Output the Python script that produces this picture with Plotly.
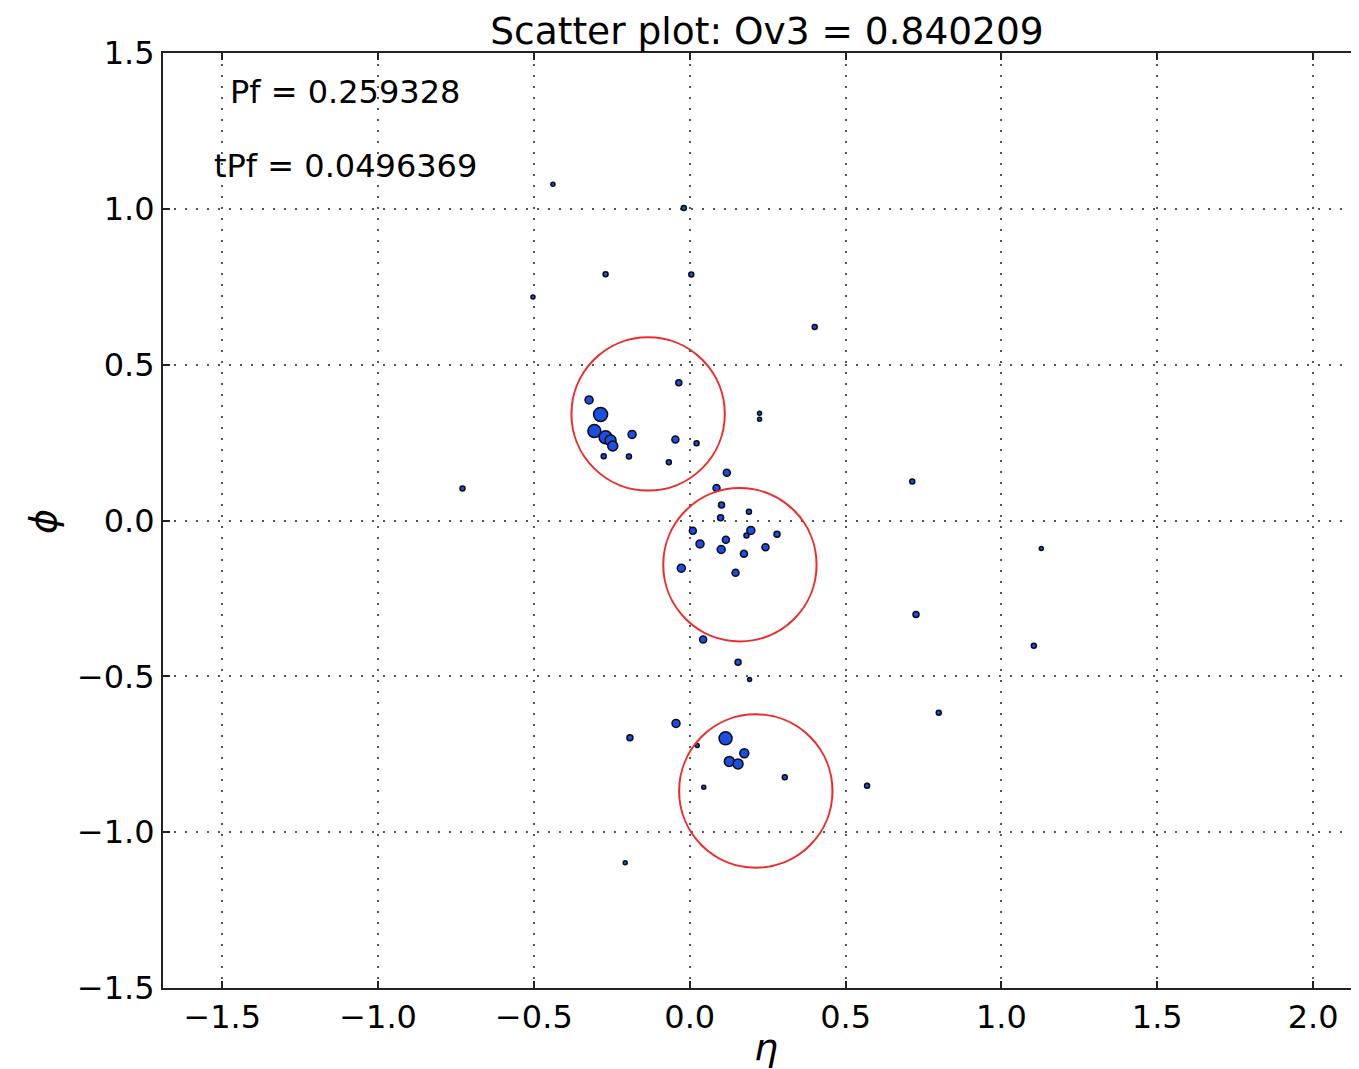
import plotly.graph_objects as go

# Data (eta, phi, marker size)
eta = [-0.323, -0.286, -0.306, -0.270, -0.254, -0.247, -0.185, -0.276, -0.195, -0.035,
       -0.046, 0.022, -0.067, 0.119, 0.086, 0.102, 0.190, 0.099, 0.010, 0.196,
       0.182, 0.280, 0.033, 0.116, 0.101, 0.174, 0.243, -0.027, 0.147, 0.043,
       -0.044, 0.115, 0.024, 0.175, 0.127, 0.155, 0.305, 0.045, -0.439, -0.019,
       -0.270, 0.005, -0.503, 0.401, 0.714, 1.128, 0.726, 1.104, 0.799, -0.729,
       0.224, 0.224, 0.155, 0.192, -0.192, 0.569, -0.207]
phi = [0.387, 0.340, 0.287, 0.267, 0.257, 0.239, 0.276, 0.206, 0.205, 0.442,
       0.260, 0.248, 0.187, 0.153, 0.104, 0.050, 0.028, 0.009, -0.033, -0.032,
       -0.048, -0.044, -0.075, -0.062, -0.093, -0.107, -0.086, -0.153, -0.168, -0.382,
       -0.651, -0.699, -0.722, -0.747, -0.773, -0.781, -0.824, -0.856, 1.079, 1.003,
       0.790, 0.789, 0.717, 0.621, 0.125, -0.090, -0.302, -0.402, -0.617, 0.103,
       0.344, 0.325, -0.455, -0.510, -0.697, -0.851, -1.098]
sizes = [7, 13, 12, 12, 10, 9, 7, 4, 4, 5,
         6, 4, 4, 6, 6, 5, 4, 5, 6, 7,
         4, 5, 7, 6, 7, 6, 6, 7, 6, 6,
         7, 12, 3, 8, 9, 9, 4, 3, 3, 4,
         4, 4, 3, 4, 4, 3, 5, 4, 4, 4,
         3, 3, 5, 3, 5, 4, 3]

# Jet circles
circle_eta = [-0.1335, 0.161, 0.212]
circle_phi = [0.342, -0.142, -0.868]
circle_r = [0.246, 0.246, 0.246]

title_text = "Scatter plot: Ov3 = 0.840209"
pf_text = "Pf = 0.259328"
tpf_text = "tPf = 0.0496369"
xlabel = "<i>\u03b7</i>"
ylabel = "<i>\u03d5</i>"

xticks = [-1.5, -1.0, -0.5, 0.0, 0.5, 1.0, 1.5, 2.0]
yticks = [-1.5, -1.0, -0.5, 0.0, 0.5, 1.0, 1.5]


def fmt(v):
    s = f"{abs(v):.1f}"
    return ("\u2212" + s) if v < 0 else s


FONT = "DejaVu Sans"
W, H = 1359, 1069
fig = go.Figure()
fig.add_trace(go.Scatter(
    x=eta, y=phi, mode="markers",
    marker=dict(size=[s + 1 for s in sizes], color="#1a4fe0", opacity=1,
                line=dict(color="#0a0a1a", width=1.5)),
    showlegend=False, hoverinfo="skip"))

for cx, cy, r in zip(circle_eta, circle_phi, circle_r):
    fig.add_shape(type="circle", xref="x", yref="y",
                  x0=cx - r, x1=cx + r, y0=cy - r, y1=cy + r,
                  line=dict(color="#ee2a2a", width=2))

fig.add_annotation(x=-1.105, y=1.374, xref="x", yref="y", text=pf_text,
                   showarrow=False, xanchor="center", yanchor="middle",
                   font=dict(family=FONT, size=32, color="black"))
fig.add_annotation(x=-1.105, y=1.136, xref="x", yref="y", text=tpf_text,
                   showarrow=False, xanchor="center", yanchor="middle",
                   font=dict(family=FONT, size=32, color="black"))
fig.add_annotation(x=0.5008, y=-0.0631, xref="paper", yref="paper", text=xlabel,
                   showarrow=False, xanchor="center", yanchor="middle",
                   font=dict(family=FONT, size=38, color="black"))
fig.add_annotation(x=-0.0997, y=0.4995, xref="paper", yref="paper", text=ylabel,
                   showarrow=False, xanchor="center", yanchor="middle", textangle=-90,
                   font=dict(family=FONT, size=38, color="black"))

fig.update_layout(
    width=W, height=H,
    margin=dict(l=155, r=0, t=45, b=89, autoexpand=False),
    paper_bgcolor="white", plot_bgcolor="white",
    font=dict(family=FONT, size=32, color="black"),
    title=dict(text=title_text, x=759 / W, xref="container", xanchor="center",
               y=1 - 23 / H, yref="container", yanchor="middle",
               font=dict(family=FONT, size=37.5, color="black")),
    xaxis=dict(range=[-1.69, 2.173], tickvals=xticks, ticktext=[fmt(v) for v in xticks],
               showline=True, linecolor="#222222", linewidth=2, mirror="ticks",
               ticks="inside", ticklen=7, tickcolor="#222222", tickwidth=1.5,
               showgrid=True, gridcolor="#555555", griddash="2px,9px", gridwidth=1.5,
               zeroline=False, ticklabelstandoff=0, automargin=False),
    yaxis=dict(range=[-1.5, 1.5], tickvals=yticks, ticktext=[fmt(v) for v in yticks],
               showline=True, linecolor="#222222", linewidth=2, mirror=False,
               ticks="inside", ticklen=7, tickcolor="#222222", tickwidth=1.5,
               showgrid=True, gridcolor="#555555", griddash="2px,9px", gridwidth=1.5,
               zeroline=False, ticklabelstandoff=0, automargin=False),
)

fig.write_html("out.html")
